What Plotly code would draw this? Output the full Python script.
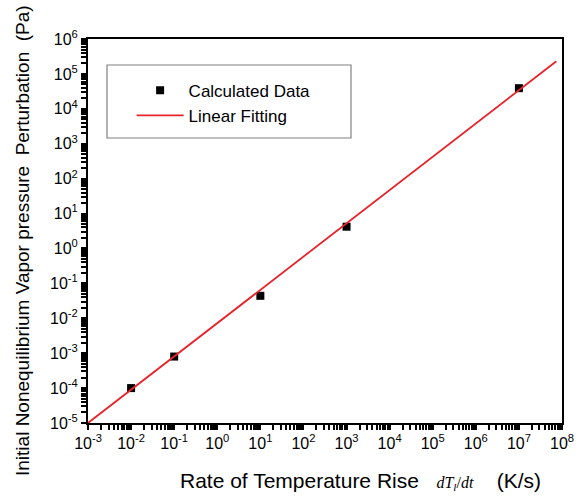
import plotly.graph_objects as go

# Data
rate = [1e-2, 1e-1, 1e1, 1e3, 1e7]               # dT/dt (K/s)
pressure = [1.0e-4, 8.0e-4, 4.4e-2, 4.2, 3.9e4]  # Pa
fit_x = [1e-3, 7.4e7]
fit_y = [1e-5, 2.3e5]
x_exponents = list(range(-3, 9))
y_exponents = list(range(-5, 7))

FONT = "Liberation Sans, Arial, sans-serif"

def all_ticks(exps):
    vals, text = [], []
    for i, e in enumerate(exps):
        vals.append(float("1e%d" % e))
        text.append("10<sup>%d</sup>" % e)
        if i < len(exps) - 1:
            for m in range(2, 10):
                vals.append(float("%de%d" % (m, e)))
                text.append(" ")
    return vals, text

fig = go.Figure()
fig.add_trace(go.Scatter(
    x=rate, y=pressure, mode="markers", name="Calculated Data",
    marker=dict(symbol="square", size=8, color="black"),
))
fig.add_trace(go.Scatter(
    x=fit_x, y=fit_y, mode="lines", name="Linear Fitting",
    line=dict(color="#e8232a", width=1.8),
))

def axis_style(exps, rng):
    vals, text = all_ticks(exps)
    return dict(
        type="log", range=rng, tickmode="array", tickvals=vals, ticktext=text,
        tickangle=0,
        showline=True, linecolor="black", linewidth=2, mirror=True,
        ticks="outside", ticklen=5, tickwidth=1.5, tickcolor="black",
        showgrid=False, zeroline=False,
        tickfont=dict(family=FONT, size=16, color="black"),
    )

fig.update_layout(
    xaxis=axis_style(x_exponents, [-3, 8]),
    yaxis=axis_style(y_exponents, [-5, 6]),
)

fig.update_layout(
    width=587, height=496,
    margin=dict(l=88, r=25, t=39, b=73),
    plot_bgcolor="white", paper_bgcolor="white",
    showlegend=True,
    legend=dict(
        x=0.092, y=0.912, xanchor="left", yanchor="top",
        borderwidth=0, bgcolor="rgba(0,0,0,0)",
        font=dict(family=FONT, size=17, color="black"),
        tracegroupgap=0, itemwidth=47,
    ),
    shapes=[dict(type="rect", xref="paper", yref="paper",
                 x0=(107 - 88) / 474, x1=(351 - 88) / 474,
                 y0=(423 - 138) / 384, y1=(423 - 65) / 384,
                 line=dict(color="#808080", width=1.2), fillcolor="rgba(0,0,0,0)")],
    annotations=[
        dict(text="Rate of Temperature Rise &nbsp;&nbsp;<span style='font-family:Liberation Serif, serif;font-size:16px'><i>dT<sub>l</sub></i>/<i>dt</i></span>&nbsp;&nbsp;&nbsp;&nbsp;(K/s)",
             xref="paper", yref="paper", x=(178 - 88) / 474, y=(423 - 481) / 384,
             xanchor="left", yanchor="middle",
             showarrow=False, font=dict(family=FONT, size=21, color="black")),
        dict(text="Initial Nonequilibrium Vapor pressure &nbsp;Perturbation &nbsp;(Pa)",
             xref="paper", x=(22 - 88) / 474, yref="paper", y=(423 - 241) / 384,
             xanchor="center", yanchor="middle",
             textangle=-90, showarrow=False, font=dict(family=FONT, size=19, color="black")),
    ],
)

fig.write_html("out.html")
